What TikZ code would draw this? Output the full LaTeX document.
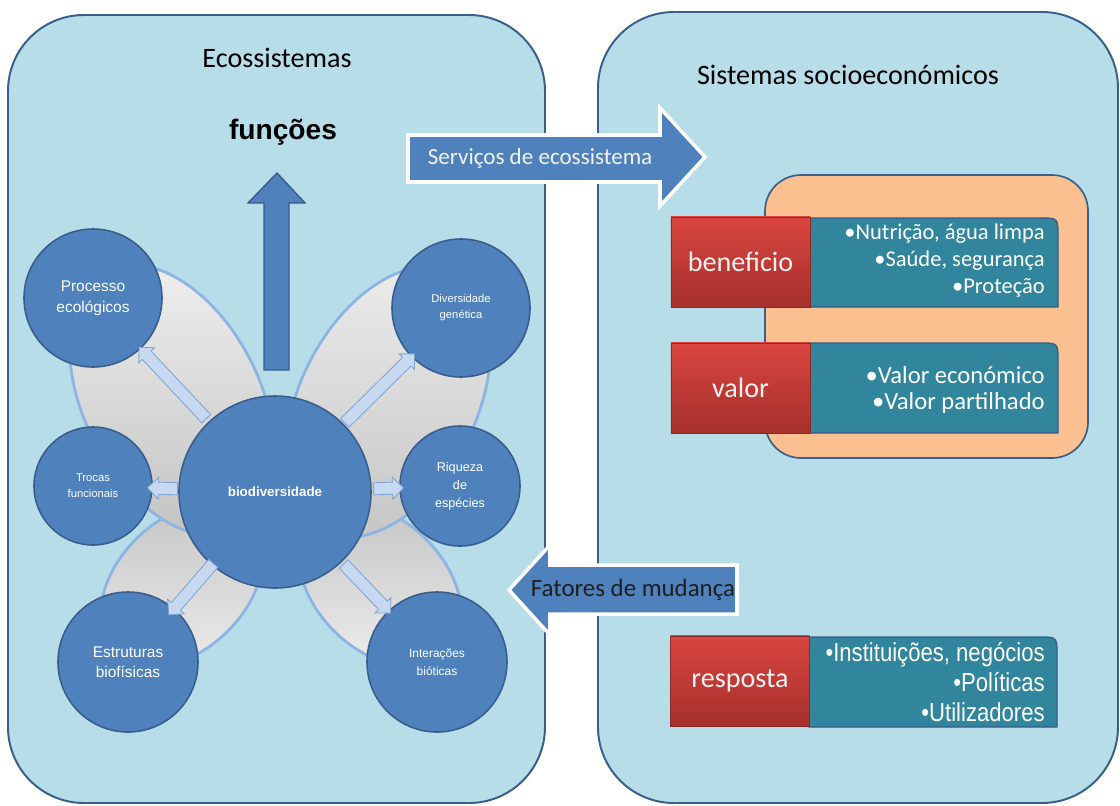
\documentclass[tikz,border=0pt]{standalone}
\usepackage{fontspec}
\setmainfont{Carlito}
\newfontfamily\arialfont{Liberation Sans}
\newfontfamily\narrowfont[FakeStretch=0.85]{Liberation Sans}
\usepackage{tikz}
\usetikzlibrary{shapes.arrows}
\definecolor{panelfill}{HTML}{B7DEE8}
\definecolor{paneledge}{HTML}{3A5F8B}
\definecolor{bluefill}{HTML}{4F81BD}
\definecolor{blueedge}{HTML}{385D8A}
\definecolor{spokefill}{HTML}{C6D9F1}
\definecolor{spokeedge}{HTML}{7FA3D0}
\definecolor{wingedge}{HTML}{8DB4E2}
\definecolor{wingtop}{HTML}{EDEDED}
\definecolor{wingbot}{HTML}{C4C4C4}
\definecolor{orangefill}{HTML}{FAC090}
\definecolor{tealfill}{HTML}{31859C}
\definecolor{redtop}{HTML}{DA4540}
\definecolor{redbot}{HTML}{A5302C}
\definecolor{rededge}{HTML}{8B2A26}
\tikzset{%
    panel/.style={draw=paneledge, line width=1.4pt, fill=panelfill, rounded corners=1.9cm},
    wing/.style={draw=wingedge, line width=2pt},
    bubble/.style={circle, draw=blueedge, line width=1.1pt, fill=bluefill,
        text=white, align=center, inner sep=0pt},
    spoke/.style={single arrow, draw=spokeedge, fill=spokefill, line width=0.6pt,
        inner sep=4pt, single arrow head extend=3.5pt, single arrow head indent=0pt,
        sloped, allow upside down, midway},
    bigarrow/.style={fill=bluefill, draw=white, line width=2.5pt},
    uparrow/.style={fill=bluefill, draw=blueedge, line width=1pt},
    tag/.style={rectangle, draw=rededge, line width=0.6pt, top color=redtop, bottom color=redbot,
        minimum width=3.475cm, minimum height=2.25cm, text=white!95!black,
        font=\fontsize{20}{24}\selectfont},
    tealbox/.style={fill=tealfill, draw=blueedge, line width=1pt},
    listtext/.style={align=right, text=white, inner sep=0pt, font=\fontsize{16}{19.2}\selectfont}
}
\begin{document}
\begin{tikzpicture}[x=0.025cm, y=-0.025cm]
    \useasboundingbox (0,0) rectangle (1120,805);
    \fill[white] (0,0) rectangle (1120,805);
    \draw[panel] (8,15) rectangle (545,803);
    \draw[panel] (598,12) rectangle (1118,803);
    \node[font=\fontsize{20}{24}\selectfont] (ecotitle) at (277,58) {Ecossistemas};
    \node[font=\fontsize{20}{24}\selectfont] (sociotitle) at (848,75) {Sistemas socioeconómicos};
    \node[font=\arialfont\bfseries\fontsize{20}{24}\selectfont] (funcoes) at (283,132) {funções};

    \draw[wing, top color=wingbot, bottom color=wingtop, rotate around={45:(182,585)}] (182,585) ellipse [x radius=95, y radius=65];
    \draw[wing, top color=wingbot, bottom color=wingtop, rotate around={135:(380,585)}] (380,585) ellipse [x radius=95, y radius=65];
    \draw[wing, top color=wingtop, bottom color=wingbot, rotate around={117:(172,400)}] (172,400) ellipse [x radius=145, y radius=88];
    \draw[wing, top color=wingtop, bottom color=wingbot, rotate around={63:(388,402)}] (388,402) ellipse [x radius=145, y radius=88];
    \draw[uparrow] (264,370) -- (264,203) -- (248,203) -- (277,173) -- (305,203) -- (289,203) -- (289,370) -- cycle;

    \node[bubble, minimum size=3.45cm, font=\arialfont\fontsize{11}{15}\selectfont] (proc) at (93,298) {Processo\\ecológicos};
    \node[bubble, minimum size=3.45cm, font=\arialfont\fontsize{8}{11.4}\selectfont] (div) at (461,308) {Diversidade\\genética};
    \node[bubble, minimum size=2.95cm, font=\arialfont\fontsize{8}{11.4}\selectfont] (troc) at (93,486) {Trocas\\funcionais};
    \node[bubble, minimum size=3cm, font=\arialfont\fontsize{9}{12.8}\selectfont] (riq) at (460,486) {Riqueza\\de\\espécies};
    \node[bubble, minimum size=4.8cm, font=\arialfont\bfseries\fontsize{9.5}{12}\selectfont] (bio) at (275,492) {biodiversidade};
    \node[bubble, minimum size=3.5cm, font=\arialfont\fontsize{11}{14}\selectfont] (estr) at (128,662) {Estruturas\\biofísicas};
    \node[bubble, minimum size=3.5cm, font=\arialfont\fontsize{8.5}{12.8}\selectfont] (inter) at (437,662) {Interações\\bióticas};
    \path (bio) -- node[spoke, minimum height=2.45cm] {} (proc);
    \path (bio) -- node[spoke, minimum height=2.45cm] {} (div);
    \path (bio) -- node[spoke, minimum height=0.75cm] {} (troc);
    \path (bio) -- node[spoke, minimum height=0.75cm] {} (riq);
    \path (bio) -- node[spoke, minimum height=1.7cm] {} (estr);
    \path (bio) -- node[spoke, minimum height=1.7cm] {} (inter);

    \draw[paneledge, line width=1.2pt, fill=orangefill, rounded corners=0.9cm] (765,175) rectangle (1088,458);
    \draw[tealbox] (810,218) -- (1040,218) .. controls (1058,218) .. (1058,236) -- (1058,307) -- (810,307) -- cycle;
    \draw[tealbox] (810,343) -- (1040,343) .. controls (1058,343) .. (1058,361) -- (1058,433) -- (810,433) -- cycle;
    \draw[tealbox] (809,637) -- (1039,637) .. controls (1057,637) .. (1057,655) -- (1057,727) -- (809,727) -- cycle;
    \node[tag] (beneficio) at (740.5,262) {beneficio};
    \node[tag] (valor) at (740.5,388) {valor};
    \node[tag] (resposta) at (740,681) {resposta};
    \node[listtext, anchor=east] (benlist) at (1045,261) {•Nutrição, água limpa\\•Saúde, segurança\\•Proteção};
    \node[listtext, anchor=east, font=\fontsize{17.5}{18.5}\selectfont] (valist) at (1045,390) {•Valor económico\\•Valor partilhado};
    \node[listtext, anchor=east, font=\narrowfont\fontsize{18.5}{21.3}\selectfont] (reslist) at (1045,682) {•Instituições, negócios\\•Políticas\\•Utilizadores};

    \draw[bigarrow] (408,135) -- (660,135) -- (660,108) -- (705,157) -- (660,206) -- (660,182) -- (408,182) -- cycle;
    \node[font=\fontsize{16.4}{20}\selectfont, text=white!95!black] (servicos) at (540,158) {Serviços de ecossistema};
    \draw[bigarrow] (737,565) -- (550,565) -- (550,545) -- (509,590) -- (550,635) -- (550,614) -- (737,614) -- cycle;
    \node[font=\fontsize{17.7}{21}\selectfont, text=black!88] (fatores) at (633,590) {Fatores de mudança};
\end{tikzpicture}
\end{document}
